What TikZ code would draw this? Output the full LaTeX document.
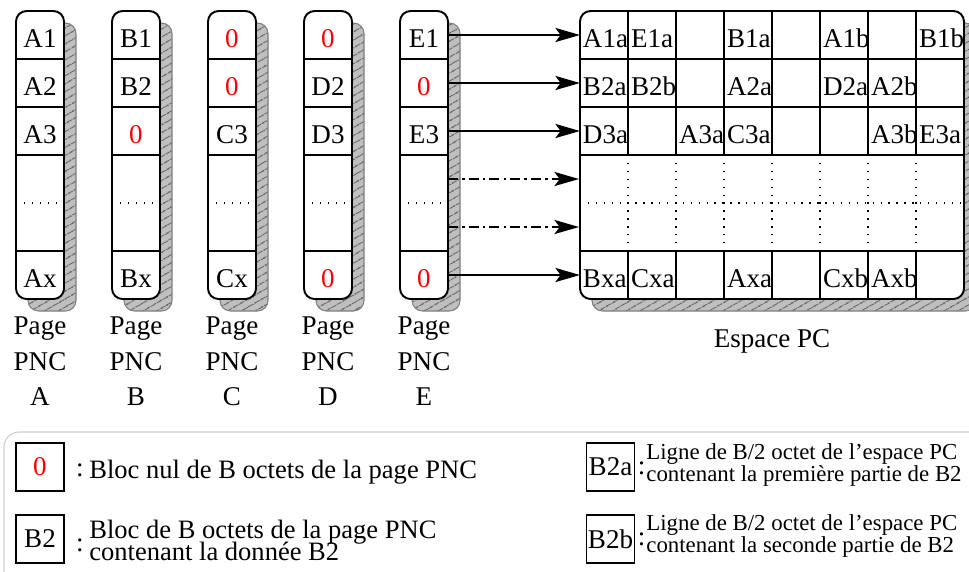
\documentclass[tikz,border=0pt]{standalone}
\usepackage{fontspec}
\setmainfont{Liberation Serif}
\usepackage{xcolor}
\usepackage{tikz}
\usetikzlibrary{arrows.meta,patterns.meta}
\newcommand{\zero}{\textcolor{red}{0}}
\newcommand{\tightlines}{\lineskiplimit=-30pt\relax}

\begin{document}
\begin{tikzpicture}[font=\fontsize{15.4}{18}\selectfont,
  pagebox/.style={draw, line width=1.1pt, rounded corners=6pt, fill=white, minimum width=0.96cm, minimum height=5.76cm, inner sep=0pt},
  shadowbox/.style={draw=gray, line width=0.6pt, rounded corners=6pt, preaction={fill=gray!50}, pattern={Lines[angle=30,distance=4pt,line width=0.7pt]}, pattern color=gray!75!black},
  rule/.style={line width=0.6pt},
  dotline/.style={line width=0.6pt, dash pattern=on 0.8pt off 3.7pt},
  cell/.style={inner sep=0pt, minimum width=0.96cm, text height=0.6cm, text depth=0.088cm},
  pccell/.style={cell, minimum width=0pt, anchor=west, inner xsep=1.5pt},
  lbl/.style={align=center, anchor=north, inner sep=0pt, font=\fontsize{15.4}{20.2}\selectfont},
  link/.style={line width=1.3pt, -{Stealth[length=14pt, width=8pt, inset=3pt]}},
  linkdd/.style={link, dash pattern=on 5.7pt off 2.3pt on 1.5pt off 2.3pt},
  keybox/.style={draw, line width=0.7pt, minimum width=0.96cm, minimum height=0.96cm, inner sep=0pt},
  note/.style={anchor=west, align=left, inner sep=0pt, font={\fontsize{15.1}{12.5}\selectfont\tightlines}},
  smallnote/.style={note, font={\fontsize{13}{12.2}\selectfont\tightlines}}]
\useasboundingbox (0,0) rectangle (19.38,-11.42);
% pages PNC
\foreach \p/\x/\ra/\rb/\rc/\rx in {A/0.8/A1/A2/A3/Ax, B/2.72/B1/B2/\zero/Bx, C/4.64/\zero/\zero/C3/Cx, D/6.56/\zero/D2/D3/\zero, E/8.48/E1/\zero/E3/\zero}{
  \path[shadowbox] ({\x-0.24},-0.46) rectangle ({\x+0.72},-6.22);
  \node[pagebox] (\p) at (\x,-3.1) {};
  \foreach \y in {-1.18,-2.14,-3.1,-5.02}
    \draw[rule] ({\x-0.48},\y) -- ({\x+0.48},\y);
  \draw[dotline] ({\x-0.48},-4.06) -- ({\x+0.48},-4.06);
  \node[cell] (\p1) at (\x,-0.7) {\ra};
  \node[cell] (\p2) at (\x,-1.66) {\rb};
  \node[cell] (\p3) at (\x,-2.62) {\rc};
  \node[cell] (\p x) at (\x,-5.5) {\rx};
  \node[lbl] (\p lab) at (\x,-6.33) {Page\\PNC\\\p};
}
% espace PC
\path[shadowbox] (11.84,-0.46) rectangle (19.52,-6.22);
\node[pagebox, minimum width=7.68cm] (pc) at (15.44,-3.1) {};
\foreach \y in {-1.18,-2.14,-3.1,-5.02}
  \draw[rule] (11.6,\y) -- (19.28,\y);
\draw[dotline] (11.6,-4.06) -- (19.28,-4.06);
\foreach \i in {1,...,7}{
  \draw[rule] ({11.6+0.96*\i},-0.22) -- ({11.6+0.96*\i},-3.1);
  \draw[dotline] ({11.6+0.96*\i},-3.1) -- ({11.6+0.96*\i},-5.02);
  \draw[rule] ({11.6+0.96*\i},-5.02) -- ({11.6+0.96*\i},-5.98);
}
\foreach \r/\y/\row in {1/-0.7/{A1a,E1a,,B1a,,A1b,,B1b}, 2/-1.66/{B2a,B2b,,A2a,,D2a,A2b,}, 3/-2.62/{D3a,,A3a,C3a,,,A3b,E3a}, x/-5.5/{Bxa,Cxa,,Axa,,Cxb,Axb,}}
  \foreach \t [count=\c] in \row
    \node[pccell] (pc\r\c) at ({11.6+0.96*(\c-1)},\y) {\t};
\node[anchor=base] (pclab) at (15.44,-6.94) {Espace PC};
% liens
\draw[link] (E1) -- (pc11);
\draw[link] (E2) -- (pc21);
\draw[link] (E3) -- (pc31);
\draw[link] (Ex) -- (pcx1);
\coordinate (Eu) at (8.96,-3.58);
\coordinate (Ed) at (8.96,-4.54);
\draw[linkdd] (Eu) -- (pc.west |- Eu);
\draw[linkdd] (Ed) -- (pc.west |- Ed);
% legende
\draw[gray!40, line width=0.6pt, rounded corners=0.3cm] (0.08,-8.64) rectangle (19.7,-11.8);
\node[keybox] (k0) at (0.8,-9.34) {\zero};
\node (k0c) at (1.6,-9.40) {:};
\node[note, anchor=base west] (k0t) at (1.78,-9.56) {Bloc nul de B octets de la page PNC};
\node[keybox] (kb) at (0.8,-10.78) {B2};
\node (kbc) at (1.6,-10.90) {:};
\node[note] (kbt) at (1.78,-10.80) {Bloc de B octets de la page PNC\\contenant la donnée B2};
\node[keybox] (ka) at (12.21,-9.34) {B2a};
\node (kac) at (12.83,-9.36) {:};
\node[smallnote] (kat) at (12.92,-9.30) {Ligne de B/2 octet de l’espace PC\\contenant la première partie de B2};
\node[keybox] (kbb) at (12.21,-10.78) {B2b};
\node (kbbc) at (12.83,-10.78) {:};
\node[smallnote] (kbbt) at (12.92,-10.72) {Ligne de B/2 octet de l’espace PC\\contenant la seconde partie de B2};
\end{tikzpicture}
\end{document}
